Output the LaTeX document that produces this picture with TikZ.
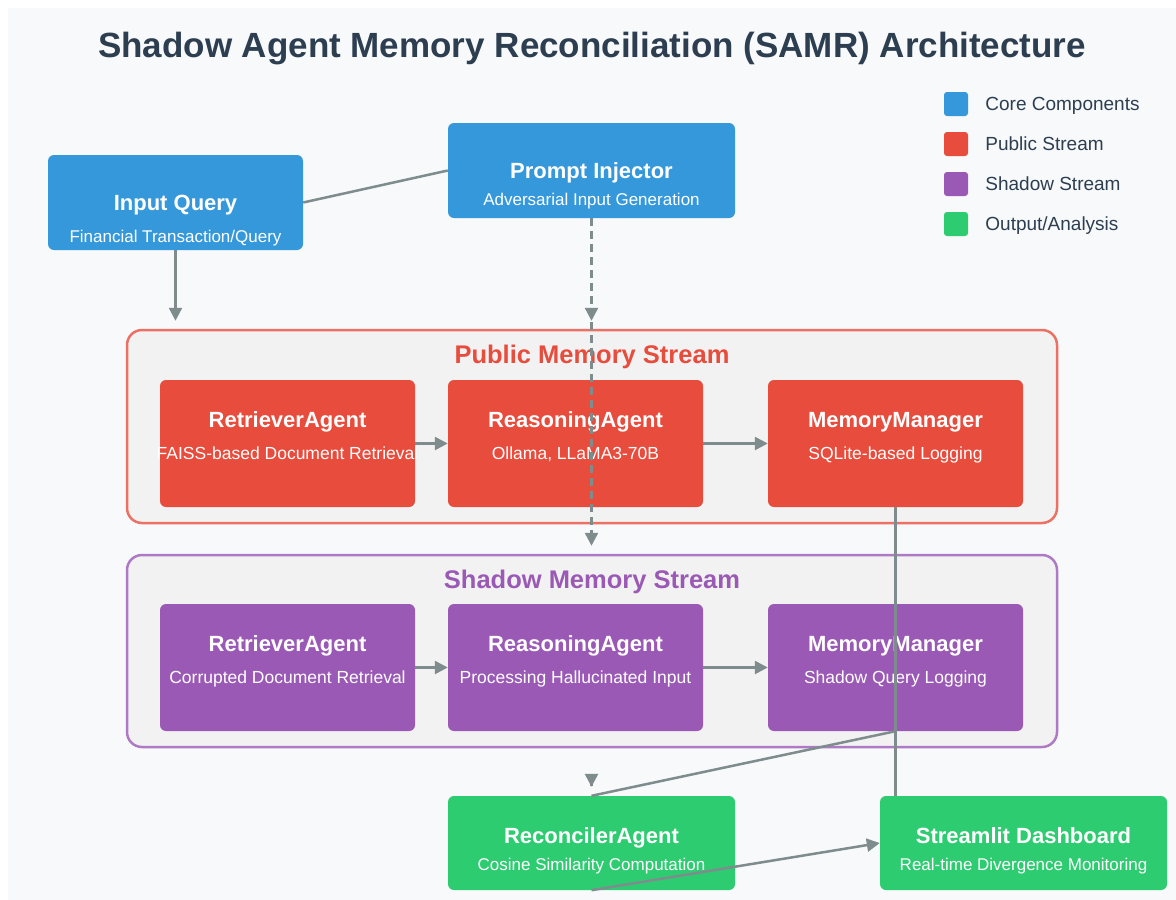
\documentclass[tikz,border=0pt]{standalone}
\usepackage{fontspec}
\setmainfont{Liberation Sans}
\usetikzlibrary{positioning,arrows.meta}

\definecolor{core}{HTML}{3498DB}
\definecolor{public}{HTML}{E74C3C}
\definecolor{shadow}{HTML}{9B59B6}
\definecolor{output}{HTML}{2ECC71}
\definecolor{publine}{HTML}{EC7063}
\definecolor{shdline}{HTML}{AF7AC5}
\definecolor{edgegray}{HTML}{7F8C8D}
\definecolor{ink}{HTML}{2C3E50}
\definecolor{panel}{HTML}{F2F2F2}
\definecolor{pagebg}{HTML}{F7F9FA}

\begin{document}
\begin{tikzpicture}[x=1pt, y=-1pt, >={Triangle[length=13pt,width=13pt]},
  box/.style={rectangle, rounded corners=6pt, minimum width=255pt, minimum height=127pt, inner sep=0pt},
  wide/.style={box, minimum width=287pt, minimum height=95pt},
  stream/.style={rectangle, rounded corners=15pt, line width=2.5pt, fill=panel, minimum width=930pt, minimum height=193pt, inner sep=0pt},
  % text nodes sit on the middle of their capitals
  txt/.style={text depth=0pt, inner sep=0pt},
  head/.style={txt, text height=15.8pt, text=white, font=\fontsize{22}{26}\selectfont\bfseries},
  sub/.style={txt, text height=12.6pt, text=white, font=\fontsize{17.5}{21}\selectfont},
  small/.style={txt, text height=12.2pt, text=white, font=\fontsize{17}{20}\selectfont},
  band/.style={txt, text height=18.4pt, font=\fontsize{25.5}{30}\selectfont\bfseries},
  link/.style={draw=edgegray, line width=2.5pt},
  dashy/.style={link, dash pattern=on 8pt off 5pt},
  swatch/.style={rectangle, rounded corners=3pt, minimum size=24pt, inner sep=0pt},
  keytext/.style={txt, text height=13.7pt, anchor=west, text=ink, font=\fontsize{19}{22}\selectfont}]

  \useasboundingbox (0,0) rectangle (1176,900);
  \fill[pagebg] (8,8) rectangle (1176,900);

  % Title
  \node[txt, text height=25.2pt, text=ink, font=\fontsize{35}{40}\selectfont\bfseries] (title) at (592,45)
    {Shadow Agent Memory Reconciliation (SAMR) Architecture};

  % Legend
  \node[swatch, fill=core] (k1) at (956,104) {};
  \node[swatch, fill=public] (k2) at (956,144) {};
  \node[swatch, fill=shadow] (k3) at (956,184) {};
  \node[swatch, fill=output] (k4) at (956,224) {};
  \node[keytext, right=17pt of k1] (t1) {Core Components};
  \node[keytext, right=17pt of k2] (t2) {Public Stream};
  \node[keytext, right=17pt of k3] (t3) {Shadow Stream};
  \node[keytext, right=17pt of k4] (t4) {Output/Analysis};

  % Inputs
  \node[wide, fill=core, minimum width=255pt] (iq) at (175.5,202.5) {};
  \node[wide, fill=core] (pi) at (591.5,170.5) {};
  \node[head] (iqh) at ([yshift=-48pt]iq.north) {Input Query};
  \node[small] (iqs) at ([yshift=-82pt]iq.north) {Financial Transaction/Query};
  \node[head] (pih) at ([yshift=-48pt]pi.north) {Prompt Injector};
  \node[small] (pis) at ([yshift=-77pt]pi.north) {Adversarial Input Generation};

  % Public stream
  \node[stream, draw=publine] (pub) at (592,426.5) {};
  \node[band, text=public] (pubh) at (592,354) {Public Memory Stream};
  \node[box, fill=public] (pra) at (287.5,443.5) {};
  \node[box, fill=public] (pre) at (575.5,443.5) {};
  \node[box, fill=public] (pmm) at (895.5,443.5) {};
  \node[head] (prah) at ([yshift=-40pt]pra.north) {RetrieverAgent};
  \node[sub] (pras) at ([yshift=-73pt]pra.north) {FAISS-based Document Retrieval};
  \node[head] (preh) at ([yshift=-40pt]pre.north) {ReasoningAgent};
  \node[sub] (pres) at ([yshift=-73pt]pre.north) {Ollama, LLaMA3-70B};
  \node[head] (pmmh) at ([yshift=-40pt]pmm.north) {MemoryManager};
  \node[sub] (pmms) at ([yshift=-73pt]pmm.north) {SQLite-based Logging};

  % Shadow stream
  \node[stream, draw=shdline, minimum height=192pt] (shd) at (592,651) {};
  \node[band, text=shadow] (shdh) at (592,579) {Shadow Memory Stream};
  \node[box, fill=shadow] (sra) at (287.5,667.5) {};
  \node[box, fill=shadow] (sre) at (575.5,667.5) {};
  \node[box, fill=shadow] (smm) at (895.5,667.5) {};
  \node[head] (srah) at ([yshift=-40pt]sra.north) {RetrieverAgent};
  \node[sub] (sras) at ([yshift=-73pt]sra.north) {Corrupted Document Retrieval};
  \node[head] (sreh) at ([yshift=-40pt]sre.north) {ReasoningAgent};
  \node[sub] (sres) at ([yshift=-73pt]sre.north) {Processing Hallucinated Input};
  \node[head] (smmh) at ([yshift=-40pt]smm.north) {MemoryManager};
  \node[sub] (smms) at ([yshift=-73pt]smm.north) {Shadow Query Logging};

  % Outputs
  \node[wide, fill=output, minimum height=94pt] (rc) at (591.5,843) {};
  \node[wide, fill=output, minimum height=94pt] (st) at (1023.5,843) {};
  \node[head] (rch) at ([yshift=-40pt]rc.north) {ReconcilerAgent};
  \node[small] (rcs) at ([yshift=-69pt]rc.north) {Cosine Similarity Computation};
  \node[head] (sth) at ([yshift=-40pt]st.north) {Streamlit Dashboard};
  \node[small] (sts) at ([yshift=-69pt]st.north) {Real-time Divergence Monitoring};
  \coordinate (tip) at ([yshift=9pt]rc.north);

  % Edges
  \draw[link] (iq.east) -- (pi.west);
  \draw[link,->,shorten >=8pt] (iq.south) -- (iq.south |- pub.north);
  \draw[dashy,->,shorten >=8pt] (pi.south) -- (pi.south |- pub.north);
  \draw[dashy,->,shorten >=8pt] (pi.south) -- (pi.south |- shd.north);
  \draw[link,->] (pra.east) -- (pre.west);
  \draw[link,->] (pre.east) -- (pmm.west);
  \draw[link,->] (sra.east) -- (sre.west);
  \draw[link,->] (sre.east) -- (smm.west);
  \draw[link] (pmm.south) -- (pmm.south |- st.north);
  \draw[link] (smm.south) -- (rc.north);
  \draw[link,->] ([yshift=1pt]tip) -- (tip);
  \draw[link,->] (rc.south) -- (st.west);
\end{tikzpicture}
\end{document}
